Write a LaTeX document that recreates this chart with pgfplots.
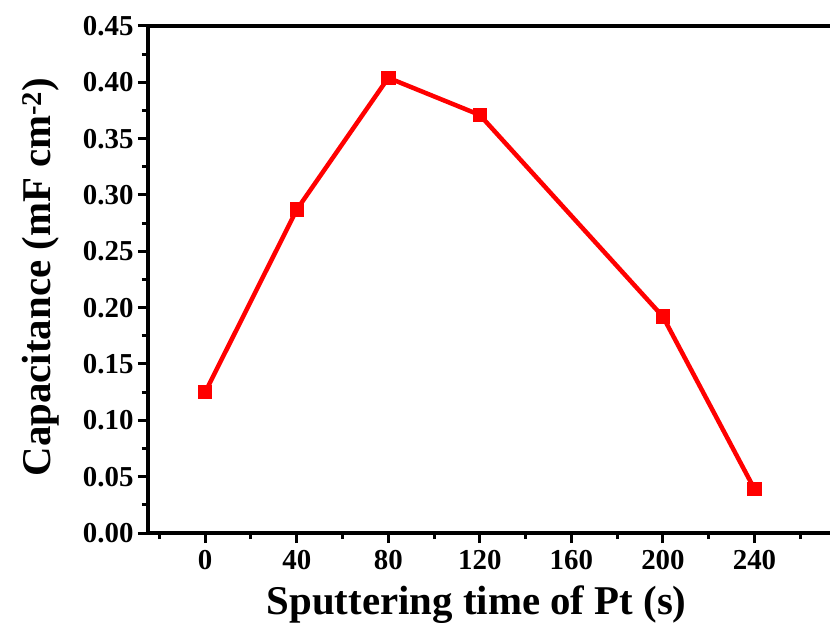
\documentclass[border=0pt]{standalone}
\usepackage{pgfplots}
\pgfplotsset{compat=1.18}
\usepackage{fontspec}
\setmainfont{Liberation Serif}
\begin{document}
\begin{tikzpicture}
\begin{axis}[
  name=ax,
  scale only axis,
  width=682bp, height=507bp,
  xmin=-25, xmax=273, ymin=0, ymax=0.45,
  axis x line=box, axis y line=left,
  axis line style={-, line width=3.5bp, black},
  xtick={0,40,80,120,160,200,240},
  minor xtick={-20,20,60,100,140,180,220,260},
  ytick={0,0.05,0.10,0.15,0.20,0.25,0.30,0.35,0.40,0.45},
  minor ytick={0.025,0.075,0.125,0.175,0.225,0.275,0.325,0.375,0.425},
  xtick pos=bottom, ytick pos=left,
  tick align=outside,
  major tick length=10bp, minor tick length=6bp,
  every tick/.style={line width=3bp, black},
  yticklabel style={/pgf/number format/fixed, /pgf/number format/fixed zerofill, /pgf/number format/precision=2, xshift=-1bp},
  tick label style={font=\fontsize{29}{29}\selectfont\bfseries},
  /pgf/number format/assume math mode=true,
  xticklabel style={yshift=-4bp},
  xlabel={Sputtering time of Pt (s)},
  ylabel={Capacitance (mF cm\textsuperscript{-2})},
  label style={font=\fontsize{41}{41}\selectfont\bfseries},
  xlabel style={at={(axis description cs:0.482,-0.142)}, anchor=center},
  ylabel style={at={(axis description cs:-0.158,0.505)}, anchor=center},
]
\addplot[red, line width=4.5bp, mark=square*, mark size=5bp, mark options={solid, fill=red}]
coordinates {
  (0,0.125) (40,0.287) (80,0.404) (120,0.371) (200,0.192) (240,0.039)
};
\end{axis}
\pgfresetboundingbox
\path[use as bounding box] ([shift={(-148bp,-100bp)}]ax.south west) rectangle ([shift={(0bp,26bp)}]ax.north east);
\end{tikzpicture}
\end{document}
